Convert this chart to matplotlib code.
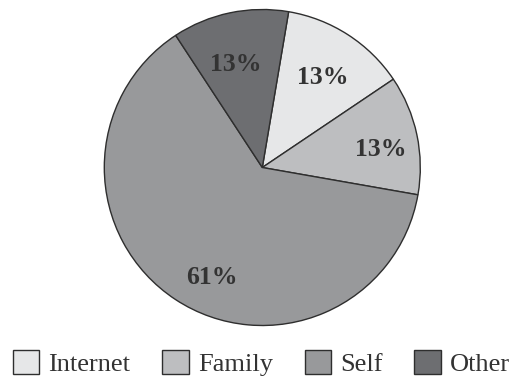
import numpy as np
import matplotlib.pyplot as plt

plt.rcParams['font.family'] = ['Liberation Serif', 'DejaVu Serif']

categories = ['Internet', 'Family', 'Self', 'Other']
shares = [12.9, 12.2, 63.0, 11.9]
pct_labels = ['13%', '13%', '61%', '13%']
colors = ['#e6e7e8', '#bdbec0', '#98999b', '#6d6e71']

fig = plt.figure(figsize=(5.16, 3.79), dpi=100)
lim = 1.03
r_px = 158
w = 2 * r_px * lim
ax = fig.add_axes([(262.3 - w / 2) / 516, (379 - 167.5 - w / 2) / 379, w / 516, w / 379])

wedges, texts, autotexts = ax.pie(
    shares, colors=colors, startangle=80.4, counterclock=False,
    autopct='%1.0f%%', pctdistance=0.72,
    wedgeprops=dict(edgecolor='#2e2e2e', linewidth=1.0),
    textprops=dict(fontsize=18.5, fontweight='bold', color='#333333'))

# label distance from centre and angular nudge, per wedge
label_r = [0.71, 0.76, 0.74, 0.70]
label_nudge = [0, -1.5, 8, 2]
for wd, t, lab, r, dn in zip(wedges, autotexts, pct_labels, label_r, label_nudge):
    a = np.deg2rad((wd.theta1 + wd.theta2) / 2 + dn)
    t.set_position((r * np.cos(a), r * np.sin(a) - 0.025))
    t.set_text(lab)
ax.set_xlim(-lim, lim)
ax.set_ylim(-lim, lim)
ax.set_aspect('equal')

fig.legend(wedges, categories, loc='center', bbox_to_anchor=(261.5 / 516, 1 - 363 / 379),
           ncol=4, frameon=False, fontsize=19, handlelength=1.0, handleheight=1.0,
           handletextpad=0.35, columnspacing=1.2, labelcolor='#333333')

fig.savefig('out.png', dpi=100)
